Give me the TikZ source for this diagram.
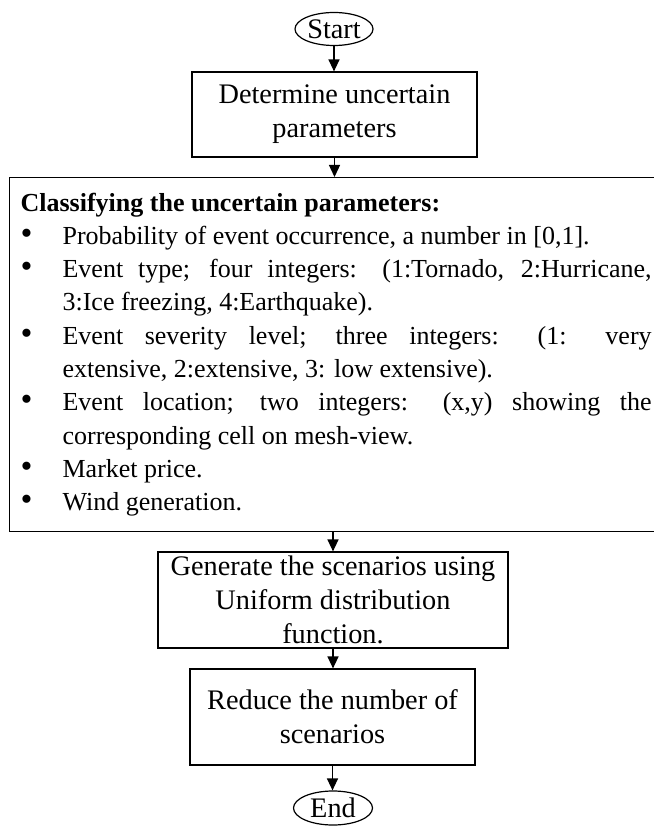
\documentclass[tikz,border=0pt]{standalone}
\usepackage{fontspec}
\setmainfont{Liberation Serif}
\usetikzlibrary{shapes.geometric,arrows.meta}

\begin{document}
\begin{tikzpicture}[x=1pt,y=-1pt,
    font=\fontsize{28.3}{34}\selectfont,
    terminal/.style={draw,ellipse,line width=1.2pt,inner sep=0pt,minimum width=78pt,minimum height=33pt},
    process/.style={draw,rectangle,line width=1.2pt,align=center,inner sep=0pt},
    flow/.style={-{Triangle[length=12pt,width=11pt]},line width=1.3pt}
]
\useasboundingbox (0,0) rectangle (653,826);

\node[terminal] (start) at (334,29) {Start};
\node[process,minimum width=285pt,minimum height=85pt] (determine) at (334.5,114.5) {Determine uncertain\\parameters};
\node[draw,line width=1.2pt,anchor=north west,text width=631pt,inner xsep=11pt,inner ysep=0pt,
      minimum height=354pt,align=justify,font=\fontsize{26}{33.3}\selectfont] (classify) at (9,177) {%
\textbf{Classifying the uncertain parameters:}
\begin{list}{{\fontsize{34}{33.3}\selectfont\textbullet}}{\setlength{\leftmargin}{42pt}\setlength{\labelwidth}{12pt}%
  \setlength{\labelsep}{30pt}\setlength{\itemsep}{0pt}\setlength{\parsep}{0pt}%
  \setlength{\topsep}{0pt}\setlength{\partopsep}{0pt}}
\item Probability of event occurrence, a number in [0,1].
\item Event type; four integers: (1:Tornado, 2:Hurricane,\linebreak 3:Ice freezing, 4:Earthquake).
\item Event severity level; three integers: (1: very\linebreak extensive, 2:extensive, 3: low extensive).
\item Event location; two integers: (x,y) showing the\linebreak corresponding cell on mesh-view.
\item Market price.
\item Wind generation.
\end{list}};
\node[process,minimum width=350pt,minimum height=96pt] (generate) at (333,600) {Generate the scenarios using\\Uniform distribution\\function.};
\node[process,minimum width=285pt,minimum height=96pt] (reduce) at (332.5,717) {Reduce the number of\\scenarios};
\node[terminal,minimum width=79pt,minimum height=34pt] (end) at (333,808) {End};

% connectors
\draw[flow] (start) -- (start |- determine.north);
\draw[flow] (determine) -- (determine |- classify.north);
\draw[flow] (classify.south -| generate.north) -- (generate);
\draw[flow] (generate) -- (generate |- reduce.north);
\draw[flow] (reduce) -- (reduce |- end.north);
\end{tikzpicture}
\end{document}
